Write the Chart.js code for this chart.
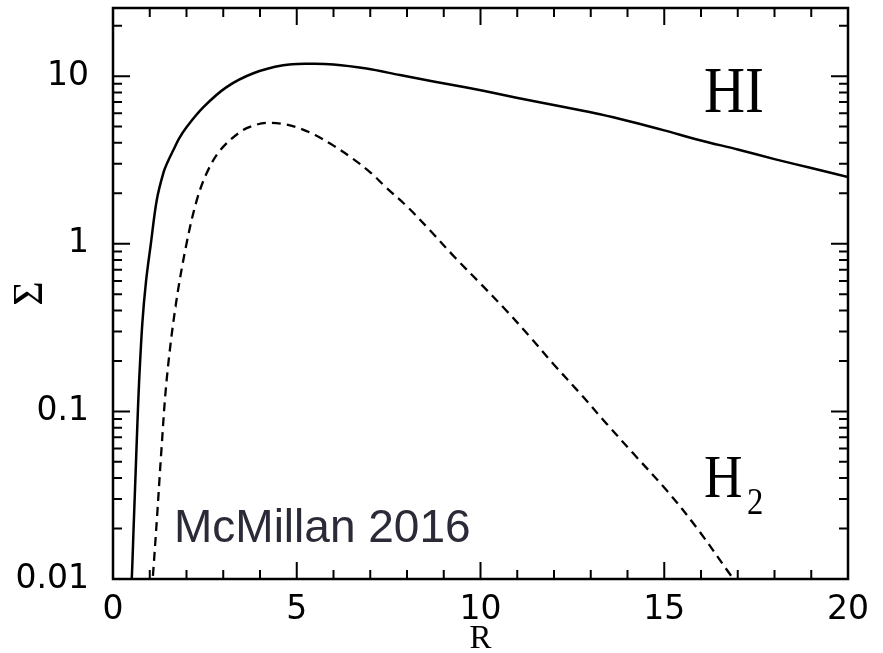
<!DOCTYPE html>
<html>
<head>
<meta charset="utf-8">
<script src="https://cdn.jsdelivr.net/npm/chart.js@4/dist/chart.umd.min.js"></script>
<style>
  html, body { margin: 0; padding: 0; background: #ffffff; }
  #wrap { width: 883px; height: 653px; position: relative; }
</style>
</head>
<body>
<div id="wrap"><canvas id="c" width="883" height="653"></canvas></div>
<script>
// ---- data ----
const rHI = [0.48, 0.51, 0.56, 0.61, 0.66, 0.71, 0.8, 0.9, 1.03, 1.19, 1.37, 1.5, 1.64, 1.8, 2.0, 2.46, 3.09, 3.82, 4.63, 5.3, 6.0, 6.9, 7.81, 8.72, 9.62, 10.53, 11.43, 12.34, 13.25, 14.1, 15.0, 15.97, 17.0, 18.0, 19.0, 20.0];
const sigmaHI = [0.0085, 0.01, 0.02, 0.04, 0.08, 0.15, 0.34, 0.6, 1.0, 1.82, 2.64, 3.12, 3.61, 4.25, 4.96, 6.53, 8.6, 10.4, 11.6, 11.85, 11.75, 11.1, 10.15, 9.3, 8.55, 7.8, 7.1, 6.5, 5.93, 5.35, 4.75, 4.15, 3.65, 3.2, 2.83, 2.5];

const rH2 = [1.05, 1.08, 1.2, 1.32, 1.46, 1.7, 2.0, 2.28, 2.55, 2.91, 3.46, 3.8, 4.18, 4.7, 5.09, 5.5, 6.0, 6.5, 7.0, 7.4, 8.0, 8.63, 9.3, 10.0, 10.7, 11.35, 12.0, 12.71, 13.43, 14.16, 15.07, 15.9, 16.84, 17.0];
const sigmaH2 = [0.0085, 0.01, 0.0237, 0.06, 0.154, 0.42, 1.0, 1.82, 2.64, 3.6, 4.65, 5.05, 5.26, 5.15, 4.87, 4.45, 3.85, 3.25, 2.67, 2.2, 1.67, 1.2, 0.83, 0.578, 0.4, 0.278, 0.19, 0.128, 0.0845, 0.056, 0.0337, 0.02, 0.0103, 0.0093];

const xTickLabels = [0, 5, 10, 15, 20];
const yTickLabels = [0.01, 0.1, 1, 10];

const seriesNames = ['HI', 'H2'];
const noteText = 'McMillan 2016';

// ---- chart ----
function pts(xs, ys) { return xs.map((x, i) => ({ x: x, y: ys[i] })); }

const framePlugin = {
  id: 'framePlugin',
  afterDraw(chart) {
    const ctx = chart.ctx;
    const a = chart.chartArea;
    const xs = chart.scales.x;
    const ys = chart.scales.y;
    ctx.save();
    ctx.strokeStyle = '#000';
    ctx.lineWidth = 2.5;
    ctx.lineCap = 'butt';
    ctx.strokeRect(a.left, a.top, a.right - a.left, a.bottom - a.top);
    ctx.lineWidth = 2;
    // x ticks (inside, bottom and top)
    for (let v = xs.min; v <= xs.max + 1e-9; v += 1) {
      const px = xs.getPixelForValue(v);
      const len = (Math.round(v) % 5 === 0) ? 17 : 9;
      ctx.beginPath();
      ctx.moveTo(px, a.bottom); ctx.lineTo(px, a.bottom - len);
      ctx.moveTo(px, a.top); ctx.lineTo(px, a.top + len);
      ctx.stroke();
    }
    // y ticks (log, inside, left and right)
    for (let d = -2; d <= 1; d++) {
      for (let m = 1; m <= 9; m++) {
        const v = m * Math.pow(10, d);
        if (v < ys.min - 1e-12 || v > ys.max) continue;
        const py = ys.getPixelForValue(v);
        const len = (m === 1) ? 17 : 9;
        ctx.beginPath();
        ctx.moveTo(a.left, py); ctx.lineTo(a.left + len, py);
        ctx.moveTo(a.right, py); ctx.lineTo(a.right - len, py);
        ctx.stroke();
      }
    }
    // labels
    ctx.fillStyle = '#000';
    ctx.textBaseline = 'alphabetic';
    ctx.textAlign = 'left';
    ctx.save();
    ctx.translate(704, 112);
    ctx.scale(0.86, 1);
    ctx.font = '66px "Liberation Serif"';
    ctx.fillText(seriesNames[0], 0, 0);
    ctx.restore();
    ctx.save();
    ctx.translate(704, 497);
    ctx.scale(0.86, 1);
    ctx.font = '62px "Liberation Serif"';
    ctx.fillText('H', 0, 0);
    ctx.font = '38px "Liberation Serif"';
    ctx.fillText('2', 50, 17);
    ctx.restore();
    ctx.fillStyle = '#2b2b38';
    ctx.font = '46px "Liberation Sans"';
    ctx.fillText(noteText, 174, 542);
    ctx.restore();
  }
};

new Chart(document.getElementById('c'), {
  type: 'line',
  data: {
    datasets: [
      {
        label: seriesNames[0],
        data: pts(rHI, sigmaHI),
        borderColor: '#000',
        borderWidth: 2.5,
        pointRadius: 0,
        fill: false,
        tension: 0.35
      },
      {
        label: seriesNames[1],
        data: pts(rH2, sigmaH2),
        borderColor: '#000',
        borderWidth: 2.3,
        borderDash: [9, 6],
        pointRadius: 0,
        fill: false,
        tension: 0.35
      }
    ]
  },
  options: {
    responsive: false,
    animation: false,
    devicePixelRatio: 1,
    layout: { padding: { left: 0, right: 35, top: 8, bottom: 0 } },
    plugins: { legend: { display: false }, tooltip: { enabled: false } },
    scales: {
      x: {
        type: 'linear',
        min: 0, max: 20,
        grid: { display: false, drawTicks: false },
        border: { display: false },
        afterBuildTicks(scale) { scale.ticks = xTickLabels.map(v => ({ value: v })); },
        afterFit(scale) {
          scale.height = 74;
          scale.paddingLeft = 0; scale.paddingRight = 0;
        },
        ticks: {
          padding: 12,
          color: '#000',
          maxRotation: 0,
          font: { family: 'DejaVu Sans', size: 33 },
          callback: v => String(v)
        },
        title: {
          display: true, text: 'R', color: '#000',
          font: { family: 'Liberation Serif', size: 33, lineHeight: 0.8 },
          padding: { top: 0, bottom: 0 }
        }
      },
      y: {
        type: 'logarithmic',
        min: 0.01, max: 25.5,
        grid: { display: false, drawTicks: false },
        border: { display: false },
        afterBuildTicks(scale) { scale.ticks = yTickLabels.map(v => ({ value: v })); },
        afterFit(scale) {
          scale.width = 113;
          scale.paddingTop = 0; scale.paddingBottom = 0;
        },
        ticks: {
          padding: 24,
          color: '#000',
          font: { family: 'DejaVu Sans', size: 33 },
          callback: v => String(v)
        },
        title: {
          display: true, text: 'Σ', color: '#000',
          font: { family: 'Liberation Serif', size: 42 },
          padding: { top: 6, bottom: 0 }
        }
      }
    }
  },
  plugins: [framePlugin]
});
</script>
</body>
</html>
